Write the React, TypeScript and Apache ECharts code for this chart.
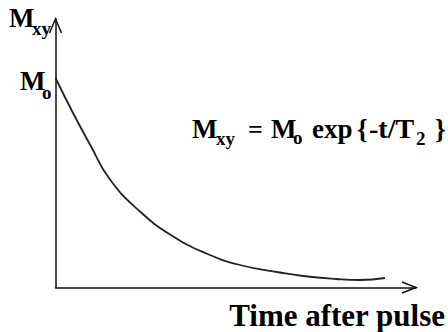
import React, { useEffect, useRef } from "react";
import * as echarts from "echarts";

// Time after pulse (arbitrary units) and transverse magnetisation (arbitrary units)
const timeValues = [0, 17.8, 34.5, 54.5, 84.5, 117.8, 151, 184.5, 224.5, 247.5, 281, 304.5, 329.5];
const mxyValues = [209.5, 174, 143, 108, 76, 51, 34, 22.5, 15, 11.5, 8.5, 7.5, 9.5];
const xMax = 360.5;
const yMax = 268.5;

const serif = "'Times New Roman', 'Liberation Serif', 'DejaVu Serif', serif";

export default function App() {
  const ref = useRef<HTMLDivElement>(null);
  useEffect(() => {
    if (!ref.current) return;
    const chart = echarts.init(ref.current, null, { renderer: "svg" });
    const data = timeValues.map((t, i) => [t, mxyValues[i]]);
    chart.setOption({
      animation: false,
      backgroundColor: "#ffffff",
      grid: { left: 55.5, top: 19, right: 32, bottom: 44.5, containLabel: false },
      xAxis: {
        type: "value",
        min: 0,
        max: xMax,
        axisLine: { show: true, lineStyle: { color: "#111", width: 1.5 } },
        axisTick: { show: false },
        axisLabel: { show: false },
        splitLine: { show: false },
      },
      yAxis: {
        type: "value",
        min: 0,
        max: yMax,
        axisLine: { show: true, lineStyle: { color: "#111", width: 1.5 } },
        axisTick: { show: false },
        axisLabel: { show: false },
        splitLine: { show: false },
      },
      series: [
        {
          type: "line",
          data,
          smooth: 0.5,
          showSymbol: false,
          lineStyle: { color: "#222", width: 1.8 },
        },
      ],
    });
    const xe = chart.convertToPixel({ gridIndex: 0 }, [xMax, 0]) as number[];
    const ye = chart.convertToPixel({ gridIndex: 0 }, [0, yMax]) as number[];
    // baseline y -> middle-aligned y (caps centred)
    const txt = (x: number, baseline: number, text: string, size: number, align = "left") => ({
      type: "text",
      x,
      y: baseline - 0.33 * size,
      style: {
        text,
        fontFamily: serif,
        fontWeight: "bold",
        fontSize: size,
        fill: "#000",
        align,
        verticalAlign: "middle",
      },
    });
    chart.setOption({
      graphic: [
        {
          type: "polyline",
          shape: { points: [[xe[0] - 14, xe[1] - 5.5], [xe[0], xe[1]], [xe[0] - 14, xe[1] + 5.5]] },
          style: { stroke: "#111", lineWidth: 1.5, fill: "none" },
        },
        {
          type: "polyline",
          shape: { points: [[ye[0] - 6, ye[1] + 14], [ye[0], ye[1]], [ye[0] + 6, ye[1] + 14]] },
          style: { stroke: "#111", lineWidth: 1.5, fill: "none" },
        },
        // y axis title
        txt(9, 27, "M", 27),
        txt(32, 35, "xy", 19),
        // M0 label
        txt(20, 90, "M", 27),
        txt(42, 99, "o", 19),
        // equation
        txt(192, 138, "M", 27),
        txt(216, 145, "xy", 19),
        txt(248, 138, "=", 26),
        txt(271, 138, "M", 27),
        txt(293, 144, "o", 19),
        txt(312, 138, "exp", 27),
        txt(357, 138, "{", 27),
        txt(369, 138, "-t/T", 28),
        txt(416, 145, "2", 19),
        txt(435, 138, "}", 27),
        // x axis title
        txt(445, 326, "Time after pulse", 31, "right"),
      ],
    });
    return () => chart.dispose();
  }, []);
  return <div ref={ref} style={{ position: "fixed", left: 0, top: 0, width: 448, height: 332 }} />;
}
